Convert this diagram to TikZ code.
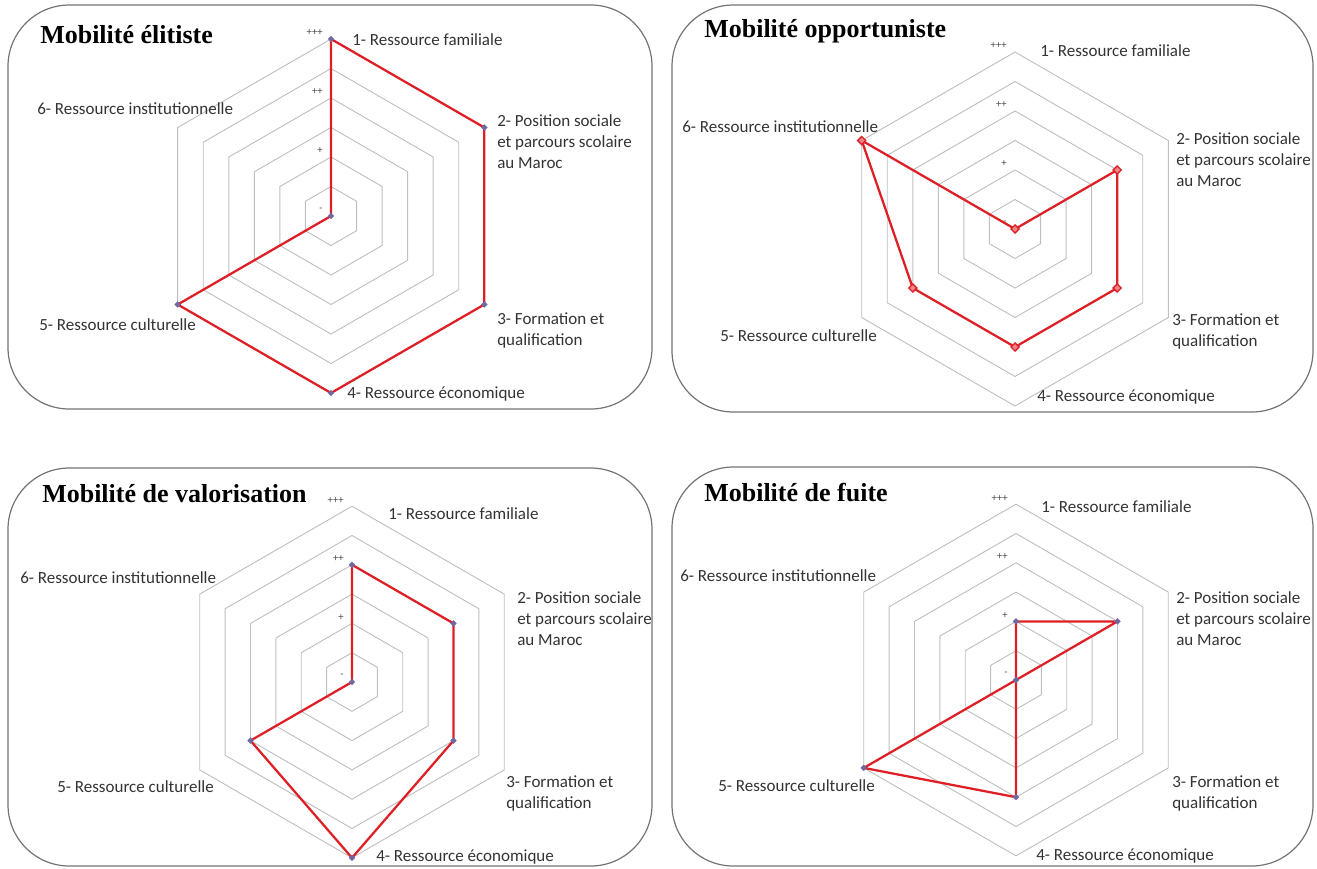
\documentclass[tikz,border=0pt]{standalone}
\usepackage{fontspec}
\setmainfont{Carlito}
\newfontfamily\titrefont{Liberation Serif}
\usetikzlibrary{calc,shapes.geometric}

\definecolor{rouge}{RGB}{222,31,38}
\definecolor{pointviolet}{RGB}{112,104,160}

\tikzset{
  cadre/.style={draw=black!55, line width=0.9pt, rounded corners=46pt},
  grille/.style={draw=black!25, line width=0.7pt},
  serie/.style={draw=rouge, line width=1.7pt, line join=round},
  point/.style={diamond, fill=pointviolet, inner sep=0pt, minimum size=5pt},
  pointrouge/.style={diamond, draw=rouge, fill=rouge!55, line width=1pt, inner sep=0pt, minimum size=6.5pt},
  titre/.style={anchor=west, inner sep=0pt, font=\titrefont\bfseries\fontsize{19.5}{22}\selectfont},
  etiq/.style={anchor=west, inner sep=0pt, text=black!80, font=\fontsize{12.75}{15.75}\selectfont},
  etiqbloc/.style={etiq, anchor=north west, align=left},
  niveau/.style={anchor=east, inner sep=0pt, text=black!70, font=\fontsize{8}{9}\selectfont},
}

% hexagones de la grille : #1 centre, #2 pas entre deux anneaux
\newcommand{\hexagrille}[2]{%
  \foreach \n in {1,...,6}
    \draw[grille] ($(#1)+(-90:{\n*#2})$) -- ($(#1)+(-30:{\n*#2})$) -- ($(#1)+(30:{\n*#2})$)
      -- ($(#1)+(90:{\n*#2})$) -- ($(#1)+(150:{\n*#2})$) -- ($(#1)+(210:{\n*#2})$) -- cycle;
}

\begin{document}
\begin{tikzpicture}[x=0.75pt,y=-0.75pt]
  \useasboundingbox (0,0) rectangle (1317,868);

  % cadres
  \draw[cadre] (8,5) rectangle (652,409);
  \draw[cadre] (672,5) rectangle (1313,412);
  \draw[cadre] (8,468) rectangle (652,866);
  \draw[cadre] (672,467) rectangle (1313,866);

  % centres des radars
  \coordinate (cA) at (331,216);
  \coordinate (cB) at (1015,229);
  \coordinate (cC) at (352,682);
  \coordinate (cD) at (1016,680);

  \hexagrille{cA}{29.5}
  \hexagrille{cB}{29.5}
  \hexagrille{cC}{29.3}
  \hexagrille{cD}{29.3}

  \foreach \n/\t in {0/-,2/+,4/++,6/+++} {
    \node[niveau] (nA\n) at ($(cA)+(-8,{-\n*29.5-6})$) {\t};
    \node[niveau] (nB\n) at ($(cB)+(-8,{-\n*29.5-6})$) {\t};
    \node[niveau] (nC\n) at ($(cC)+(-8,{-\n*29.3-6})$) {\t};
    \node[niveau] (nD\n) at ($(cD)+(-8,{-\n*29.3-6})$) {\t};
  }

  % Mobilite elitiste
  \node[titre] (tA) at (40,35) {Mobilité élitiste};
  \node[etiq] (A-l1) at (352,40) {1- Ressource familiale};
  \node[etiqbloc] (A-l2) at (497,114) {2- Position sociale\\et parcours scolaire\\au Maroc};
  \node[etiqbloc] (A-l3) at (497,312) {3- Formation et\\qualification};
  \node[etiq] (A-l4) at (347,394) {4- Ressource économique};
  \node[etiq] (A-l5) at (39,325) {5- Ressource culturelle};
  \node[etiq] (A-l6) at (37,109) {6- Ressource institutionnelle};

  % Mobilite opportuniste
  \node[titre] (tB) at (704,31) {Mobilité opportuniste};
  \node[etiq] (B-l1) at (1040,51) {1- Ressource familiale};
  \node[etiqbloc] (B-l2) at (1176,132) {2- Position sociale\\et parcours scolaire\\au Maroc};
  \node[etiqbloc] (B-l3) at (1172,313) {3- Formation et\\qualification};
  \node[etiq] (B-l4) at (1037,397) {4- Ressource économique};
  \node[etiq] (B-l5) at (720,336) {5- Ressource culturelle};
  \node[etiq] (B-l6) at (682,127) {6- Ressource institutionnelle};

  % Mobilite de valorisation
  \node[titre] (tC) at (42,494) {Mobilité de valorisation};
  \node[etiq] (C-l1) at (388,514) {1- Ressource familiale};
  \node[etiqbloc] (C-l2) at (517,591) {2- Position sociale\\et parcours scolaire\\au Maroc};
  \node[etiqbloc] (C-l3) at (506,775) {3- Formation et\\qualification};
  \node[etiq] (C-l4) at (376,857) {4- Ressource économique};
  \node[etiq] (C-l5) at (57,787) {5- Ressource culturelle};
  \node[etiq] (C-l6) at (20,578) {6- Ressource institutionnelle};

  % Mobilite de fuite
  \node[titre] (tD) at (704,492) {Mobilité de fuite};
  \node[etiq] (D-l1) at (1041,507) {1- Ressource familiale};
  \node[etiqbloc] (D-l2) at (1176,591) {2- Position sociale\\et parcours scolaire\\au Maroc};
  \node[etiqbloc] (D-l3) at (1172,775) {3- Formation et\\qualification};
  \node[etiq] (D-l4) at (1036,856) {4- Ressource économique};
  \node[etiq] (D-l5) at (718,786) {5- Ressource culturelle};
  \node[etiq] (D-l6) at (680,576) {6- Ressource institutionnelle};

  % valeurs (0 = centre, 6 = +++)
  \foreach \k/\v in {1/6,2/6,3/6,4/6,5/6,6/0}
    \coordinate (A\k) at ($(cA)+({60*\k-150}:{\v*29.5})$);
  \foreach \k/\v in {1/0,2/4,3/4,4/4,5/4,6/6}
    \coordinate (B\k) at ($(cB)+({60*\k-150}:{\v*29.5})$);
  \foreach \k/\v in {1/4,2/4,3/4,4/6,5/4,6/0}
    \coordinate (C\k) at ($(cC)+({60*\k-150}:{\v*29.3})$);
  \foreach \k/\v in {1/2,2/4,3/0,4/4,5/6,6/0}
    \coordinate (D\k) at ($(cD)+({60*\k-150}:{\v*29.3})$);

  \draw[serie] (A1) -- (A2) -- (A3) -- (A4) -- (A5) -- (A6) -- cycle;
  \draw[serie] (B1) -- (B2) -- (B3) -- (B4) -- (B5) -- (B6) -- cycle;
  \draw[serie] (C1) -- (C2) -- (C3) -- (C4) -- (C5) -- (C6) -- cycle;
  \draw[serie] (D1) -- (D2) -- (D3) -- (D4) -- (D5) -- (D6) -- cycle;

  \foreach \k in {1,...,6} {
    \node[point] (mA\k) at (A\k) {};
    \node[pointrouge] (mB\k) at (B\k) {};
    \node[point] (mC\k) at (C\k) {};
    \node[point] (mD\k) at (D\k) {};
  }
\end{tikzpicture}
\end{document}
